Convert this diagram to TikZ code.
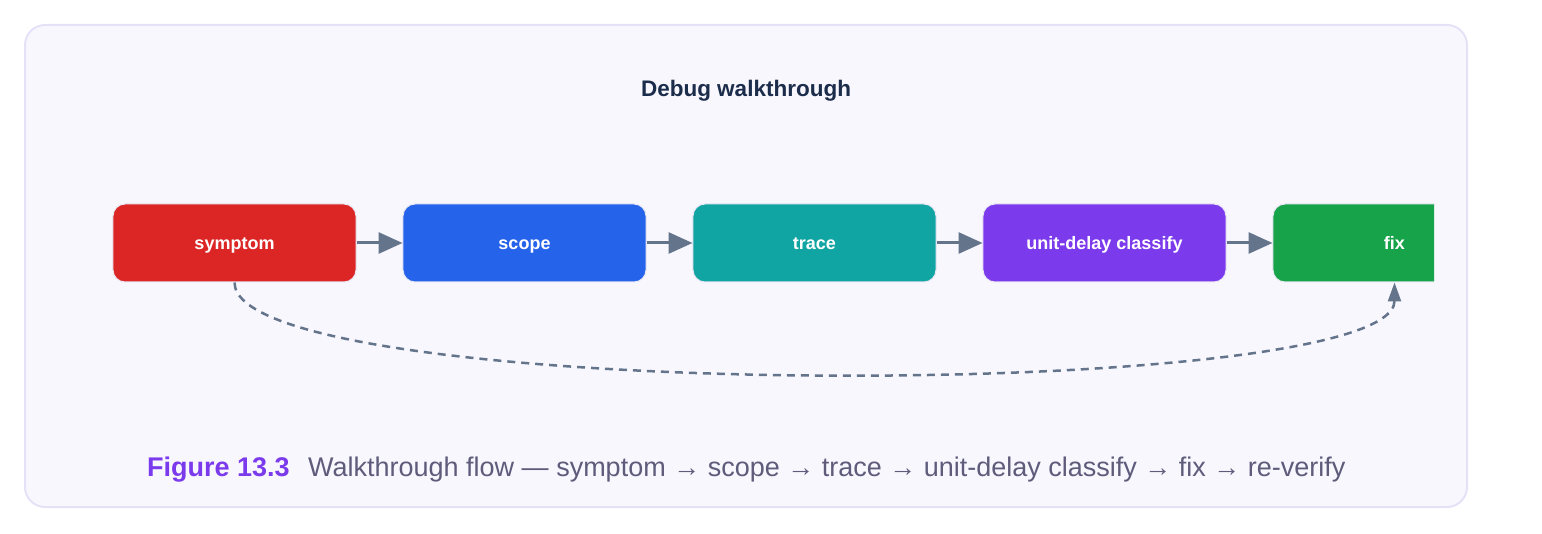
\documentclass[tikz,border=0pt]{standalone}
\usepackage{fontspec}
\setmainfont{Liberation Sans}
\usetikzlibrary{matrix, arrows.meta}
\definecolor{panelbg}{HTML}{F8F7FE}
\definecolor{panelline}{HTML}{E5E2F7}
\definecolor{boxline}{HTML}{E9E7F4}
\definecolor{arrowgrey}{HTML}{64748B}
\definecolor{titleink}{HTML}{1B2D4B}
\definecolor{capink}{HTML}{5E5B7B}
\definecolor{figpurple}{HTML}{7C3AED}
\definecolor{symred}{HTML}{DC2626}
\definecolor{scopeblue}{HTML}{2563EB}
\definecolor{traceteal}{HTML}{10A5A3}
\definecolor{delaypurple}{HTML}{7C3AED}
\definecolor{fixgreen}{HTML}{16A34A}
\tikzset{
  stagebox/.style={rectangle, rounded corners=12pt, draw=boxline, line width=1pt,
    minimum width=243pt, minimum height=78pt, text=white, anchor=center,
    text height=15pt, text depth=1pt,
    font=\fontsize{18}{22}\selectfont\bfseries},
  flowarrow/.style={draw=arrowgrey, line width=3pt, -{Triangle[length=24pt,width=21pt]}},
  loopback/.style={draw=arrowgrey, line width=2.5pt, dash pattern=on 8pt off 6pt,
    -{Triangle[length=19pt,width=13pt]}}
}
\begin{document}
\begin{tikzpicture}[x=1pt, y=-1pt]
\useasboundingbox (0,0) rectangle (1542,534);
\draw [panelline, fill=panelbg, line width=2pt, rounded corners=20pt] (25,25) rectangle (1467,507);
\node [text=titleink, font=\fontsize{22.5}{27}\selectfont\bfseries] (title) at (746,91) {Debug walkthrough};
\begin{scope}
\clip (0,0) rectangle (1434,534);
\matrix (m) at (814.5,243) [matrix of nodes, nodes={stagebox}, column sep=46pt]{
|[fill=symred]| symptom & |[fill=scopeblue]| scope & |[fill=traceteal]| trace &
|[fill=delaypurple]| unit-delay classify & |[fill=fixgreen]| fix \\
};
\end{scope}
\foreach \a/\b in {1/2, 2/3, 3/4, 4/5}
  \draw [flowarrow] (m-1-\a.east) -- (m-1-\b.west);
\draw [loopback] (m-1-1.south) .. controls +(0,121) and +(0,121) .. (m-1-5.south);
\node [anchor=base west, inner sep=0pt, text=figpurple, font=\fontsize{27}{32}\selectfont\bfseries] (figlabel) at (147,476) {Figure 13.3};
\node [anchor=base west, inner sep=0pt, text=capink, font=\fontsize{27}{32}\selectfont] (captext) at (308,476) {Walkthrough flow — symptom → scope → trace → unit-delay classify → fix → re-verify};
\end{tikzpicture}
\end{document}
